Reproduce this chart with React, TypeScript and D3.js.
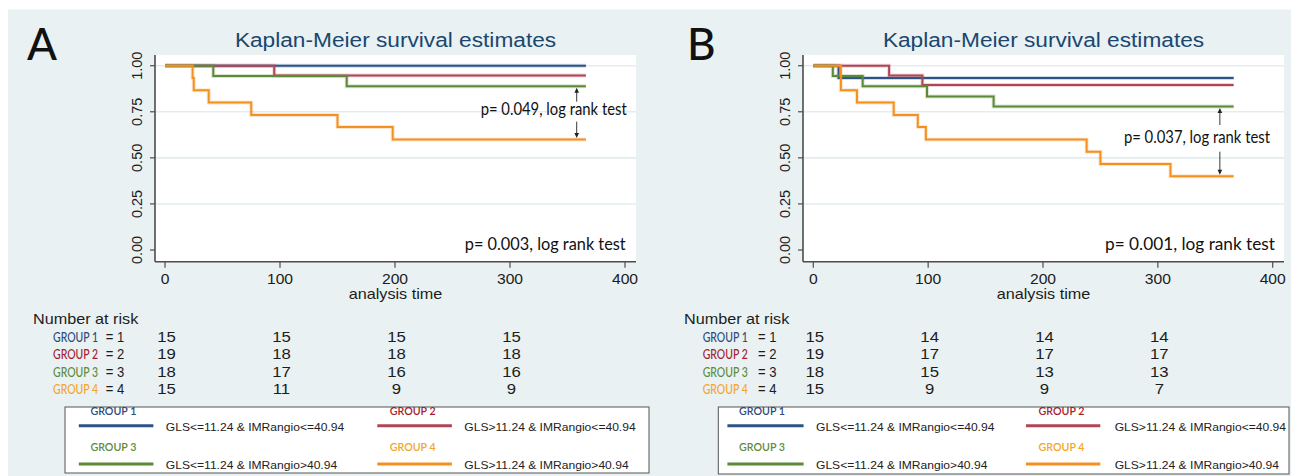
import React, { useLayoutEffect, useRef, useState } from "react";
import * as d3 from "d3";

// ---- data ----
const groupNames = ["GROUP 1", "GROUP 2", "GROUP 3", "GROUP 4"];
const groupDefs = [
  "GLS<=11.24 & IMRangio<=40.94",
  "GLS>11.24 & IMRangio<=40.94",
  "GLS<=11.24 & IMRangio>40.94",
  "GLS>11.24 & IMRangio>40.94",
];
const followUpEnd = 366;
const xTicks = [0, 100, 200, 300, 400];
const yTicks = [0, 0.25, 0.5, 0.75, 1];
const riskTimes = [0, 100, 200, 300];

// panel A: event times and Kaplan-Meier estimates per group
const eventsA = [[], [95], [42, 158], [24, 25, 38, 75, 150, 198]];
const survA = [[], [0.947], [0.944, 0.889], [0.933, 0.867, 0.8, 0.733, 0.667, 0.6]];
const riskA = [
  [15, 15, 15, 15],
  [19, 18, 18, 18],
  [18, 17, 16, 16],
  [15, 11, 9, 9],
];
const pOverallA = "0.003";
const pPairA = "0.049";

// panel B
const eventsB = [[22], [66, 95], [17, 43, 99, 157], [24, 38, 70, 91, 98, 238, 250, 311]];
const survB = [
  [0.933],
  [0.947, 0.895],
  [0.944, 0.889, 0.833, 0.778],
  [0.867, 0.8, 0.733, 0.667, 0.6, 0.533, 0.467, 0.4],
];
const riskB = [
  [15, 14, 14, 14],
  [19, 17, 17, 17],
  [18, 15, 13, 13],
  [15, 9, 9, 7],
];
const pOverallB = "0.001";
const pPairB = "0.037";

// ---- styling ----
const lineColors = ["#2d5486", "#b04555", "#5d8a38", "#f39020"];
const labelColors = ["#2e4a7a", "#a3202c", "#5e8a3a", "#f2a52a"];
const BG = "#e9f1f3";
const GRID = "#e3ecef";
const AXIS = "#4d4d4d";
const TITLE = "#1a476f";
const ARIAL = "'Liberation Sans', Arial, sans-serif";
const CAL = "Lato, 'Open Sans', sans-serif";
const SX = 1.08;

type TxtProps = {
  x: number;
  y: number;
  anchor?: string;
  size: number;
  fill?: string;
  family?: string;
  weight?: number;
  len?: number;
  children: React.ReactNode;
};

// Text drawn with a slight horizontal stretch (matches the wide glyph look of the figure)
function Txt({ x, y, anchor = "start", size, fill = "#1c1c1c", family = ARIAL, weight = 400, len, children }: TxtProps) {
  if (len) {
    return (
      <FitText x={x} y={y} anchor={anchor} size={size} fill={fill} family={family} weight={weight} len={len}>
        {children}
      </FitText>
    );
  }
  return (
    <text transform={`translate(${x},${y}) scale(${SX},1)`} textAnchor={anchor} fontSize={size} fill={fill}
      fontFamily={family} fontWeight={weight}>
      {children}
    </text>
  );
}

// Text squeezed or stretched horizontally so that it spans exactly `len` pixels
function FitText({ x, y, anchor = "start", size, fill = "#1c1c1c", family = ARIAL, weight = 400, len, children }: TxtProps) {
  const ref = useRef<SVGTextElement>(null);
  const [k, setK] = useState(1);
  useLayoutEffect(() => {
    const measure = () => {
      if (!ref.current || !len) return;
      const w = ref.current.getComputedTextLength();
      if (w > 0) setK(len / w);
    };
    measure();
    const fonts = (document as any).fonts;
    if (fonts && fonts.ready) fonts.ready.then(measure);
  }, [len, children, size, family]);
  return (
    <text ref={ref} transform={`translate(${x},${y}) scale(${k},1)`} textAnchor={anchor} fontSize={size} fill={fill}
      fontFamily={family} fontWeight={weight}>
      {children}
    </text>
  );
}

type Layout = {
  letter: string;
  letterX: number;
  plotL: number;
  plotR: number;
  x0: number;
  x400: number;
  arrowT: number;
  arrowGap: [number, number];
  pairRight: number;
  pairY: number;
  pairLen: number;
  overallRight: number;
  overallLen: number;
  yLabelX: number;
  nrX: number;
  rowLabelX: number;
  eqLeft: number;
  box: [number, number, number, number];
  leg: { t1: number; l1: [number, number]; d1: number; t2: number; l2: [number, number]; d2: number };
};

const layoutA: Layout = {
  letter: "A", letterX: 27, plotL: 155, plotR: 636, x0: 165, x400: 625,
  arrowT: 358, arrowGap: [101.7, 121.7], pairRight: 626.7, pairY: 114.5, pairLen: 146,
  overallRight: 625.7, overallLen: 161, yLabelX: 142,
  nrX: 33, rowLabelX: 53, eqLeft: 105.7, box: [65, 407, 649, 473],
  leg: { t1: 90.4, l1: [78.8, 153.4], d1: 165.8, t2: 389.7, l2: [377.3, 451.9], d2: 464.3 },
};
const layoutB: Layout = {
  letter: "B", letterX: 687, plotL: 803, plotR: 1284, x0: 813.3, x400: 1272.7,
  arrowT: 354, arrowGap: [125, 151.7], pairRight: 1270, pairY: 143, pairLen: 146,
  overallRight: 1275, overallLen: 170, yLabelX: 790,
  nrX: 684, rowLabelX: 702.7, eqLeft: 758, box: [718.3, 407, 1289, 474],
  leg: { t1: 739, l1: [727.4, 803.6], d1: 816, t2: 1038.5, l2: [1026, 1100.3], d2: 1114.7 },
};

function Panel({ L, events, surv, risk, pOverall, pPair }: {
  L: Layout; events: number[][]; surv: number[][]; risk: number[][]; pOverall: string; pPair: string;
}) {
  const x = d3.scaleLinear().domain([0, 400]).range([L.x0, L.x400]);
  const y = d3.scaleLinear().domain([0, 1]).range([250, 65.7]);
  const plotTop = 55;
  const plotBottom = 261.7;
  const line = d3
    .line<[number, number]>()
    .x((d) => x(d[0]))
    .y((d) => y(d[1]))
    .curve(d3.curveStepAfter);

  const paths = events.map((ts, g) => {
    const pts: [number, number][] = [[0, 1]];
    ts.forEach((t, i) => pts.push([t, surv[g][i]]));
    const last = surv[g].length ? surv[g][surv[g].length - 1] : 1;
    pts.push([followUpEnd, last]);
    return line(pts) as string;
  });

  const ax = x(L.arrowT);
  const yTop = y(surv[2][surv[2].length - 1]) + 1.5;
  const yBot = y(surv[3][surv[3].length - 1]) - 1.5;
  const cx = (L.plotL + L.plotR) / 2;
  const rowBase = [341.7, 359.3, 377, 394.3];
  const [bx0, by0, bx1, by1] = L.box;
  const legRows = [
    { title: by0 + 8.3, line: by0 + 18.7, desc: by0 + 24 },
    { title: by0 + 44, line: by0 + 57, desc: by0 + 62 },
  ];

  return (
    <g>
      <text x={L.letterX} y={60} fontSize={44} fontFamily={CAL} fontWeight={500} fill="#111">
        {L.letter}
      </text>
      <Txt x={cx} y={47} anchor="middle" size={21} fill={TITLE}>
        Kaplan-Meier survival estimates
      </Txt>

      {/* plot region */}
      <rect x={L.plotL} y={plotTop} width={L.plotR - L.plotL} height={plotBottom - plotTop} fill="#fff" />
      {yTicks.filter((t) => t > 0).map((t) => (
        <line key={t} x1={L.plotL} x2={L.plotR} y1={y(t)} y2={y(t)} stroke={GRID} strokeWidth={1.6} />
      ))}

      {/* survival curves */}
      {paths.map((d, g) => (
        <g key={g}>
          <path d={d} fill="none" stroke={lineColors[g]} strokeWidth={4} strokeOpacity={0.22} />
          <path d={d} fill="none" stroke={lineColors[g]} strokeWidth={2} />
        </g>
      ))}

      {/* axes */}
      <line x1={L.plotL} x2={L.plotL} y1={plotTop} y2={plotBottom} stroke={AXIS} strokeWidth={1.6} />
      <line x1={L.plotL} x2={L.plotR} y1={plotBottom} y2={plotBottom} stroke={AXIS} strokeWidth={1.6} />
      {yTicks.map((t) => (
        <g key={t}>
          <line x1={L.plotL - 5} x2={L.plotL} y1={y(t)} y2={y(t)} stroke={AXIS} strokeWidth={1.2} />
          <text transform={`translate(${L.yLabelX},${y(t)}) rotate(-90)`} textAnchor="middle" fontSize={14.5}
            fontFamily={ARIAL} fill="#1c1c1c">
            {d3.format(".2f")(t)}
          </text>
        </g>
      ))}
      {xTicks.map((t) => (
        <g key={t}>
          <line x1={x(t)} x2={x(t)} y1={plotBottom} y2={plotBottom + 6} stroke={AXIS} strokeWidth={1.2} />
          <Txt x={x(t)} y={284} anchor="middle" size={14.5}>
            {t}
          </Txt>
        </g>
      ))}
      <Txt x={cx} y={299} anchor="middle" size={15}>
        analysis time
      </Txt>

      {/* log-rank annotations */}
      <line x1={ax} x2={ax} y1={yTop + 4} y2={L.arrowGap[0]} stroke="#222" strokeWidth={0.9} />
      <path d={`M${ax},${yTop} L${ax - 2.3},${yTop + 5} L${ax + 2.3},${yTop + 5} Z`} fill="#222" />
      <line x1={ax} x2={ax} y1={L.arrowGap[1]} y2={yBot - 4} stroke="#222" strokeWidth={0.9} />
      <path d={`M${ax},${yBot} L${ax - 2.3},${yBot - 5} L${ax + 2.3},${yBot - 5} Z`} fill="#222" />
      <Txt x={L.pairRight} y={L.pairY} anchor="end" size={17} family={CAL} len={L.pairLen} fill="#111">
        {`p= ${pPair}, log rank test`}
      </Txt>
      <Txt x={L.overallRight} y={250} anchor="end" size={18} family={CAL} len={L.overallLen} fill="#111">
        {`p= ${pOverall}, log rank test`}
      </Txt>

      {/* number at risk */}
      <Txt x={L.nrX} y={323.5} size={15}>
        Number at risk
      </Txt>
      {risk.map((row, g) => (
        <g key={g}>
          <Txt x={L.rowLabelX} y={rowBase[g]} size={14} family={CAL} weight={500} fill={labelColors[g]} len={45}>
            {groupNames[g]}
          </Txt>
          <Txt x={L.eqLeft} y={rowBase[g]} size={14.5} len={18.5}>
            {`= ${g + 1}`}
          </Txt>
          {row.map((n, i) => (
            <Txt key={i} x={x(riskTimes[i]) + 1.5} y={rowBase[g]} anchor="middle" size={15.5}>
              {n}
            </Txt>
          ))}
        </g>
      ))}

      {/* legend */}
      <rect x={bx0} y={by0} width={bx1 - bx0} height={by1 - by0} fill="#fff" stroke="#555" strokeWidth={1} />
      {groupNames.map((name, g) => {
        const col = g % 2;
        const r = legRows[Math.floor(g / 2)];
        const tX = col === 0 ? L.leg.t1 : L.leg.t2;
        const lX = col === 0 ? L.leg.l1 : L.leg.l2;
        const dX = col === 0 ? L.leg.d1 : L.leg.d2;
        return (
          <g key={name}>
            <Txt x={tX} y={r.title} size={10.5} family={CAL} weight={600} fill={labelColors[g]} len={46}>
              {name}
            </Txt>
            <line x1={lX[0]} x2={lX[1]} y1={r.line} y2={r.line} stroke={lineColors[g]} strokeWidth={3} />
            <Txt x={dX} y={r.desc} size={11.2} fill="#222">
              {groupDefs[g]}
            </Txt>
          </g>
        );
      })}
    </g>
  );
}

export default function App() {
  return (
    <svg width={1291} height={476} style={{ position: "absolute", left: 0, top: 0 }}>
      <rect width={1291} height={476} fill="#fff" />
      <rect x={8} y={9.5} width={1283} height={466.5} fill={BG} />
      <Panel L={layoutA} events={eventsA} surv={survA} risk={riskA} pOverall={pOverallA} pPair={pPairA} />
      <Panel L={layoutB} events={eventsB} surv={survB} risk={riskB} pOverall={pOverallB} pPair={pPairB} />
    </svg>
  );
}
